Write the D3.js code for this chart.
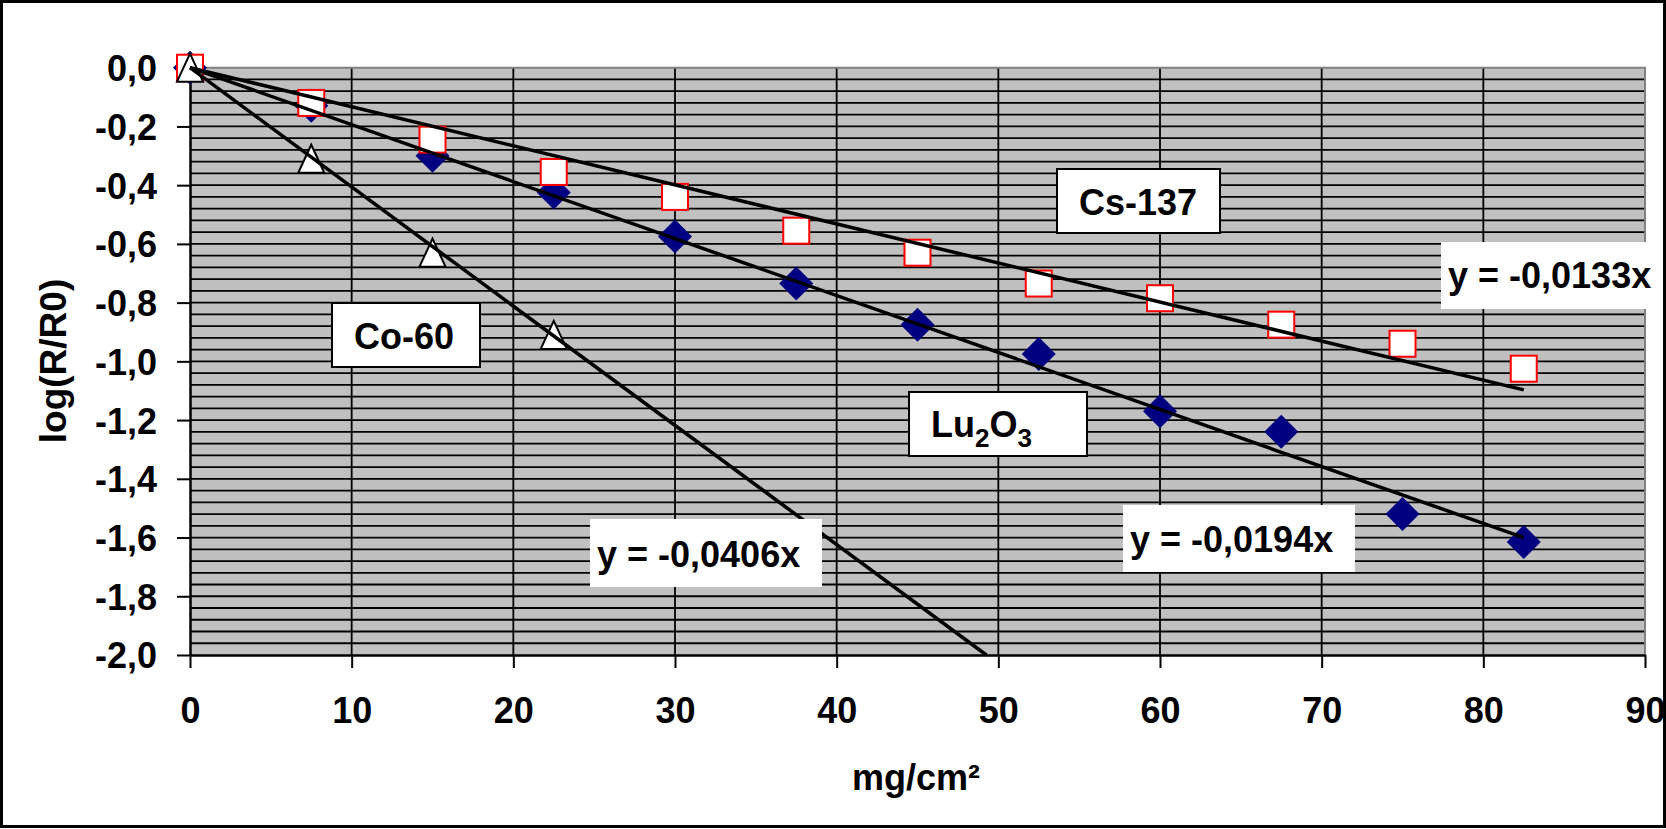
<!DOCTYPE html>
<html>
<head>
<meta charset="utf-8">
<script src="https://cdn.jsdelivr.net/npm/d3@7"></script>
<style>
  body { margin: 0; background: #fff; }
  text { font-family: "Liberation Sans", Arial, sans-serif; font-weight: bold; fill: #000; }
</style>
</head>
<body>
<div id="chart"></div>
<script>
// measured points (mg/cm2 vs log(R/R0))
const thickness = [0, 7.5, 15, 22.5, 30, 37.5, 45, 52.5, 60, 67.5, 75, 82.5];
const lu2o3 = [0, -0.13, -0.30, -0.425, -0.575, -0.735, -0.875, -0.975, -1.17, -1.24, -1.52, -1.615];
const cs137 = [0, -0.12, -0.245, -0.355, -0.44, -0.555, -0.63, -0.735, -0.785, -0.875, -0.94, -1.025];
const co60 = [0, -0.31, -0.63, -0.91];

// fitted slopes (y = a*x)
const slopeLu = -0.0194;
const slopeCs = -0.0133;
const slopeCo = -0.0406;

const xTicks = [0, 10, 20, 30, 40, 50, 60, 70, 80, 90];
const yTicks = [0, -0.2, -0.4, -0.6, -0.8, -1.0, -1.2, -1.4, -1.6, -1.8, -2.0];
const yMinor = d3.range(1, 50).map(i => -i * 0.04);

const W = 1666, H = 829;
const pLeft = 190, pRight = 1645, pTop = 67.7, pBottom = 655;

const loc = d3.formatLocale({decimal: ",", thousands: ".", grouping: [3], currency: ["", ""], minus: "-"});
const fmt1 = loc.format(".1f");

var svg = d3.select("#chart").append("svg")
    .attr("width", W)
    .attr("height", H);

// outer frame
svg.append("rect")
    .attr("x", 1.5).attr("y", 1.5)
    .attr("width", W - 3).attr("height", H - 4)
    .attr("fill", "#fff")
    .attr("stroke", "#000")
    .attr("stroke-width", 3);

var x = d3.scaleLinear().domain([0, 90]).range([pLeft, pRight]);
var y = d3.scaleLinear().domain([0, -2]).range([pTop, pBottom]);

// plot area
svg.append("rect")
    .attr("x", pLeft).attr("y", pTop)
    .attr("width", pRight - pLeft).attr("height", pBottom - pTop)
    .attr("fill", "#c0c0c0");

// horizontal grid (minor + major)
svg.append("g")
    .selectAll("line")
    .data(yMinor)
    .enter()
    .append("line")
        .attr("x1", pLeft).attr("x2", pRight)
        .attr("y1", d => y(d)).attr("y2", d => y(d))
        .attr("stroke", "#000")
        .attr("stroke-width", 1.8);

// vertical grid
svg.append("g")
    .selectAll("line")
    .data(xTicks.slice(1, -1))
    .enter()
    .append("line")
        .attr("x1", d => x(d)).attr("x2", d => x(d))
        .attr("y1", pTop).attr("y2", pBottom)
        .attr("stroke", "#000")
        .attr("stroke-width", 1.8);

// plot area border (top/right gray)
svg.append("path")
    .attr("d", "M" + pLeft + "," + pTop + "H" + pRight + "V" + pBottom)
    .attr("fill", "none")
    .attr("stroke", "#808080")
    .attr("stroke-width", 2);

// axes
var yAxis = svg.append("g")
    .attr("transform", "translate(" + pLeft + ",0)")
    .call(d3.axisLeft(y).tickValues(yTicks).tickFormat(fmt1).tickSize(13).tickSizeOuter(0).tickPadding(20));
var xAxis = svg.append("g")
    .attr("transform", "translate(0," + pBottom + ")")
    .call(d3.axisBottom(x).tickValues(xTicks).tickSize(13).tickSizeOuter(0).tickPadding(29));

[yAxis, xAxis].forEach(function(a) {
    a.select(".domain").attr("stroke", "#000").attr("stroke-width", 2.5);
    a.selectAll(".tick line").attr("stroke", "#000").attr("stroke-width", 2);
    a.selectAll(".tick text")
        .style("font-family", "'Liberation Sans', Arial, sans-serif")
        .style("font-weight", "bold")
        .style("font-size", "36px")
        .attr("fill", "#000");
});
yAxis.selectAll(".tick text").attr("dy", "0.36em");

// axis titles
svg.append("text")
    .attr("text-anchor", "middle")
    .attr("x", 916)
    .attr("y", 790)
    .style("font-size", "36px")
    .text("mg/cm²");

svg.append("text")
    .attr("text-anchor", "middle")
    .attr("transform", "translate(66,361) rotate(-90)")
    .style("font-size", "37px")
    .text("log(R/R0)");

// markers: diamonds (Lu2O3)
var luPts = thickness.map((t, i) => ({x: t, y: lu2o3[i]}));
var csPts = thickness.map((t, i) => ({x: t, y: cs137[i]}));
var coPts = co60.map((v, i) => ({x: thickness[i], y: v}));

svg.append("g")
    .selectAll("path")
    .data(luPts)
    .enter()
    .append("path")
        .attr("transform", d => "translate(" + x(d.x) + "," + y(d.y) + ")")
        .attr("d", "M0,-17L17,0L0,17L-17,0Z")
        .attr("fill", "#000080");

// squares (Cs-137)
svg.append("g")
    .selectAll("rect")
    .data(csPts)
    .enter()
    .append("rect")
        .attr("x", d => x(d.x) - 13)
        .attr("y", d => y(d.y) - 13)
        .attr("width", 26)
        .attr("height", 26)
        .attr("fill", "#fff")
        .attr("stroke", "#ff0000")
        .attr("stroke-width", 2);

// triangles (Co-60)
svg.append("g")
    .selectAll("path")
    .data(coPts)
    .enter()
    .append("path")
        .attr("transform", d => "translate(" + x(d.x) + "," + y(d.y) + ")")
        .attr("d", "M0,-14L13,14L-13,14Z")
        .attr("fill", "#fff")
        .attr("stroke", "#000")
        .attr("stroke-width", 2);

// trend lines through origin, cut at the plot bottom
var fits = [slopeCs, slopeLu, slopeCo];
svg.append("g")
    .selectAll("line")
    .data(fits)
    .enter()
    .append("line")
        .attr("x1", x(0)).attr("y1", y(0))
        .attr("x2", d => x(Math.min(82.5, -2 / d)))
        .attr("y2", d => y(Math.min(82.5, -2 / d) * d))
        .attr("stroke", "#000")
        .attr("stroke-width", 3.5);

// label boxes
function box(x0, y0, w, h, border) {
    svg.append("rect")
        .attr("x", x0).attr("y", y0)
        .attr("width", w).attr("height", h)
        .attr("fill", "#fff")
        .attr("stroke", border ? "#000" : "none")
        .attr("stroke-width", 2);
}

box(1057, 169, 163, 64, true);
svg.append("text").attr("x", 1138).attr("y", 215).attr("text-anchor", "middle")
    .style("font-size", "36px").text("Cs-137");

box(332, 303, 148, 64, true);
svg.append("text").attr("x", 404).attr("y", 349).attr("text-anchor", "middle")
    .style("font-size", "36px").text("Co-60");

box(909, 392, 178, 64, true);
var lu = svg.append("text").attr("x", 931).attr("y", 437).style("font-size", "36px");
lu.append("tspan").text("Lu");
lu.append("tspan").attr("dy", 10).style("font-size", "26px").text("2");
lu.append("tspan").attr("dy", -10).text("O");
lu.append("tspan").attr("dy", 10).style("font-size", "26px").text("3");

box(1441, 242, 222, 67, false);
svg.append("text").attr("x", 1448).attr("y", 288).style("font-size", "36px").text("y = -0,0133x");

box(1123, 505, 232, 67, false);
svg.append("text").attr("x", 1130).attr("y", 552).style("font-size", "36px").text("y = -0,0194x");

box(590, 519, 232, 68, false);
svg.append("text").attr("x", 597).attr("y", 567).style("font-size", "36px").text("y = -0,0406x");
</script>
</body>
</html>
